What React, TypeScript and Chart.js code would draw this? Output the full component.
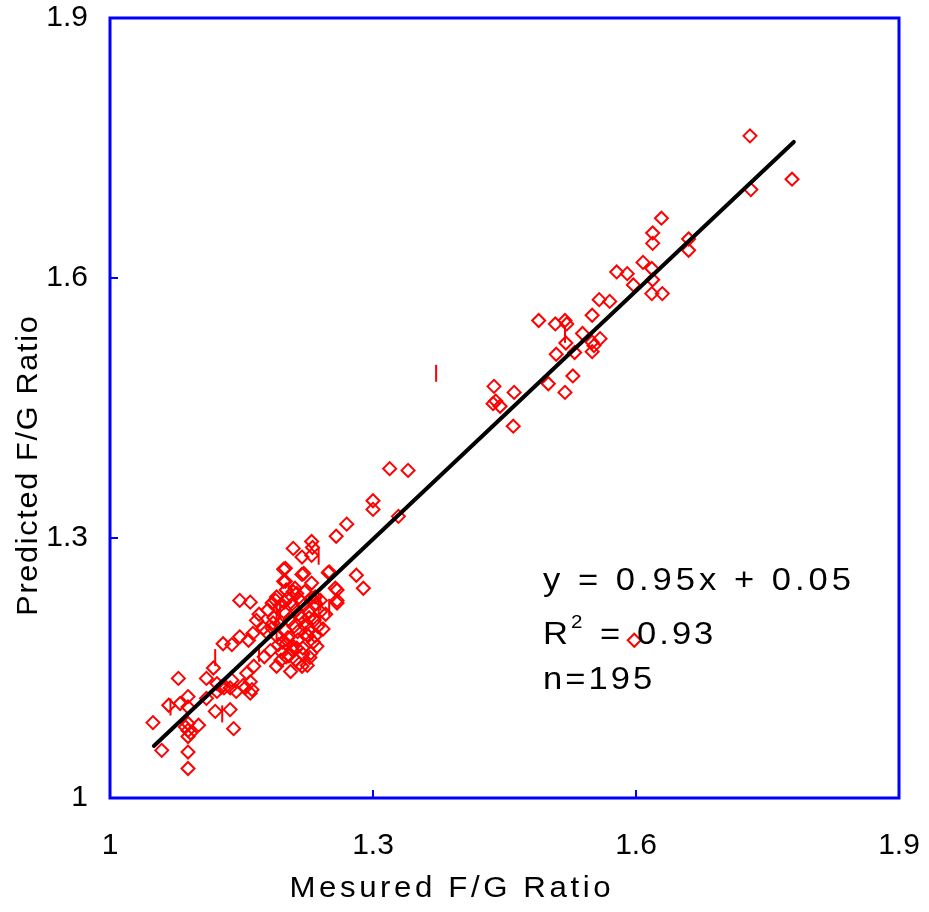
import { useEffect, useRef } from 'react';
import { Chart, registerables } from 'chart.js';

Chart.register(...registerables);

// ---------------- data ----------------
const X_TICKS = [1, 1.3, 1.6, 1.9];
const X_TICK_LABELS = ['1', '1.3', '1.6', '1.9'];
const Y_TICKS = [1, 1.3, 1.6, 1.9];
const Y_TICK_LABELS = ['1', '1.3', '1.6', '1.9'];

const X_TITLE = 'Mesured F/G Ratio';
const Y_TITLE = 'Predicted F/G Ratio';
const EQUATION = 'y = 0.95x + 0.05';
const R2_MAIN = 'R';
const R2_SUP = '2';
const R2_EQ = '=';
const R2_VALUE = '0.93';
const N_LABEL = 'n=195';

// measured (x), predicted (y) – diamonds
const DIAMOND_POINTS: [number, number][] = [
  // upper group
  [1.730, 1.764], [1.778, 1.714], [1.731, 1.702], [1.629, 1.669], [1.619, 1.652],
  [1.619, 1.640], [1.660, 1.645], [1.660, 1.632], [1.608, 1.618], [1.618, 1.611],
  [1.578, 1.607], [1.590, 1.605], [1.597, 1.592], [1.619, 1.598], [1.618, 1.582],
  [1.630, 1.582], [1.570, 1.573], [1.558, 1.575], [1.550, 1.557], [1.489, 1.551],
  [1.508, 1.547], [1.519, 1.551], [1.521, 1.547], [1.539, 1.536], [1.520, 1.525],
  [1.550, 1.526], [1.559, 1.530], [1.550, 1.515], [1.509, 1.512], [1.530, 1.514],
  [1.528, 1.487], [1.500, 1.478], [1.519, 1.468], [1.438, 1.475], [1.461, 1.468],
  [1.437, 1.455], [1.445, 1.452], [1.440, 1.458], [1.460, 1.429], [1.552, 1.522],
  [1.598, 1.182],
  // middle group
  [1.319, 1.380], [1.340, 1.378], [1.300, 1.343], [1.300, 1.333], [1.329, 1.325],
  [1.270, 1.316], [1.258, 1.302], [1.230, 1.296], [1.231, 1.289], [1.209, 1.288],
  [1.219, 1.278], [1.230, 1.280], [1.198, 1.264], [1.219, 1.258], [1.249, 1.260],
  [1.281, 1.257], [1.198, 1.250], [1.230, 1.248], [1.289, 1.242], [1.257, 1.242],
  [1.148, 1.228], [1.160, 1.226], [1.190, 1.232], [1.209, 1.238], [1.259, 1.228],
  [1.167, 1.205], [1.200, 1.265], [1.200, 1.250], [1.221, 1.259], [1.250, 1.261],
  [1.259, 1.240], [1.259, 1.225], [1.175, 1.196], [1.163, 1.190], [1.158, 1.182],
  [1.148, 1.186], [1.139, 1.177], [1.129, 1.178],
  // dense cluster
  [1.189, 1.228], [1.194, 1.222], [1.198, 1.215], [1.203, 1.231], [1.208, 1.224],
  [1.212, 1.217], [1.217, 1.228], [1.221, 1.222], [1.226, 1.215], [1.230, 1.231],
  [1.235, 1.224], [1.187, 1.208], [1.193, 1.201], [1.200, 1.194], [1.205, 1.205],
  [1.210, 1.198], [1.214, 1.192], [1.219, 1.208], [1.224, 1.201], [1.228, 1.194],
  [1.233, 1.205], [1.237, 1.198], [1.190, 1.187], [1.197, 1.180], [1.203, 1.185],
  [1.209, 1.175], [1.214, 1.182], [1.220, 1.173], [1.226, 1.187], [1.232, 1.180],
  [1.196, 1.168], [1.204, 1.164], [1.212, 1.159], [1.220, 1.166], [1.228, 1.162],
  [1.236, 1.175], [1.185, 1.196], [1.240, 1.215], [1.201, 1.240], [1.222, 1.238],
  [1.192, 1.177], [1.216, 1.155], [1.208, 1.171], [1.234, 1.187], [1.180, 1.217],
  [1.178, 1.192], [1.195, 1.159], [1.225, 1.153], [1.211, 1.242], [1.240, 1.228],
  [1.186, 1.202], [1.213, 1.173], [1.234, 1.232], [1.152, 1.130], [1.162, 1.125],
  [1.127, 1.128], [1.246, 1.212], [1.243, 1.195], [1.206, 1.146], [1.183, 1.170],
  [1.176, 1.163], [1.170, 1.212], [1.215, 1.212], [1.227, 1.208], [1.199, 1.226],
  [1.223, 1.190], [1.201, 1.178], [1.213, 1.236], [1.185, 1.225], [1.229, 1.167],
  // lower group
  [1.118, 1.150], [1.110, 1.138], [1.078, 1.138], [1.122, 1.132], [1.139, 1.136],
  [1.154, 1.127], [1.160, 1.134], [1.144, 1.123], [1.160, 1.121], [1.137, 1.127],
  [1.130, 1.127], [1.122, 1.123], [1.067, 1.107], [1.080, 1.109], [1.089, 1.117],
  [1.089, 1.105], [1.049, 1.087], [1.089, 1.086], [1.089, 1.078], [1.089, 1.071],
  [1.086, 1.082], [1.092, 1.075], [1.101, 1.084], [1.059, 1.055], [1.089, 1.053],
  [1.089, 1.034], [1.120, 1.100], [1.137, 1.102], [1.141, 1.080], [1.110, 1.115],
  [1.156, 1.144], [1.190, 1.152], [1.219, 1.152], [1.201, 1.163], [1.164, 1.152],
];

// points drawn as short vertical dashes
const DASH_POINTS: [number, number][] = [
  [1.372, 1.490], [1.519, 1.535], [1.238, 1.279], [1.250, 1.220], [1.238, 1.222],
  [1.194, 1.219], [1.190, 1.213], [1.190, 1.193], [1.170, 1.167], [1.240, 1.226],
  [1.120, 1.162], [1.069, 1.105], [1.128, 1.097],
];

// regression line end points
const TREND_LINE: [number, number][] = [
  [1.05, 1.06], [1.78, 1.757],
];

// ---------------- styling / layout ----------------
const FONT = "'Liberation Sans', Arial, Helvetica, sans-serif";
const FRAME_BLUE = '#0000FF';
const MARK_RED = '#FF0000';

// draws text with a horizontal stretch and extra spacing; returns the end x
function drawText(
  ctx: CanvasRenderingContext2D,
  text: string,
  x: number,
  y: number,
  opts: { stretch: number; spacing: number; align: 'left' | 'center' }
) {
  const { stretch, spacing, align } = opts;
  const chars = Array.from(text);
  const widths = chars.map((c) => ctx.measureText(c).width * stretch);
  const total = widths.reduce((s, w) => s + w, 0) + spacing * (chars.length - 1);
  let cx = align === 'center' ? x - total / 2 : x;
  ctx.textAlign = 'left';
  chars.forEach((c, i) => {
    ctx.save();
    ctx.translate(cx, y);
    ctx.scale(stretch, 1);
    ctx.fillText(c, 0, 0);
    ctx.restore();
    cx += widths[i] + spacing;
  });
  return cx;
}

const overlayPlugin = {
  id: 'overlay',
  afterDraw(chart: any) {
    const { ctx, chartArea: a, scales } = chart;
    const xs = scales.x;
    const ys = scales.y;
    ctx.save();

    // blue frame
    ctx.strokeStyle = FRAME_BLUE;
    ctx.lineWidth = 3;
    ctx.strokeRect(a.left, a.top, a.right - a.left, a.bottom - a.top);

    // inward tick marks
    ctx.lineWidth = 2;
    ctx.beginPath();
    X_TICKS.slice(1, -1).forEach((v) => {
      const px = Math.round(xs.getPixelForValue(v));
      ctx.moveTo(px, a.bottom);
      ctx.lineTo(px, a.bottom - 8);
    });
    Y_TICKS.slice(1, -1).forEach((v) => {
      const py = Math.round(ys.getPixelForValue(v));
      ctx.moveTo(a.left, py);
      ctx.lineTo(a.left + 8, py);
    });
    ctx.stroke();

    // axis titles
    ctx.fillStyle = '#000000';
    ctx.textBaseline = 'alphabetic';
    ctx.font = `30px ${FONT}`;
    drawText(ctx, X_TITLE, a.left + 340, a.bottom + 99, { stretch: 1.04, spacing: 3.6, align: 'center' });

    ctx.save();
    ctx.translate(37, (a.top + a.bottom) / 2 + 58);
    ctx.rotate(-Math.PI / 2);
    drawText(ctx, Y_TITLE, 0, 0, { stretch: 1.02, spacing: 1.7, align: 'center' });
    ctx.restore();

    // regression annotation
    const ax = xs.getPixelForValue(1.494);
    ctx.font = `32px ${FONT}`;
    drawText(ctx, EQUATION, ax, ys.getPixelForValue(1.240), { stretch: 1.08, spacing: 4, align: 'left' });
    const rBase = ys.getPixelForValue(1.178);
    const afterR = drawText(ctx, R2_MAIN, ax, rBase, { stretch: 1.08, spacing: 0, align: 'left' });
    ctx.font = `19px ${FONT}`;
    drawText(ctx, R2_SUP, afterR + 3, rBase - 16, { stretch: 1.08, spacing: 0, align: 'left' });
    ctx.font = `32px ${FONT}`;
    drawText(ctx, R2_EQ, ax + 57, rBase, { stretch: 1.08, spacing: 0, align: 'left' });
    drawText(ctx, R2_VALUE, ax + 94, rBase, { stretch: 1.08, spacing: 3, align: 'left' });
    drawText(ctx, N_LABEL, ax, ys.getPixelForValue(1.126), { stretch: 1.08, spacing: 3, align: 'left' });

    ctx.restore();
  },
};

export default function App() {
  const ref = useRef<HTMLCanvasElement | null>(null);

  useEffect(() => {
    if (!ref.current) return;
    const chart = new Chart(ref.current, {
      type: 'scatter',
      data: {
        datasets: [
          {
            type: 'line',
            label: 'fit',
            data: TREND_LINE.map(([x, y]) => ({ x, y })),
            borderColor: '#000000',
            borderWidth: 4,
            pointRadius: 0,
            fill: false,
            tension: 0,
            borderCapStyle: 'round',
          },
          {
            label: 'dash',
            data: DASH_POINTS.map(([x, y]) => ({ x, y })),
            pointStyle: 'line',
            pointRotation: 90,
            pointRadius: 8.5,
            pointHoverRadius: 8.5,
            borderColor: MARK_RED,
            backgroundColor: MARK_RED,
            borderWidth: 2,
          },
          {
            label: 'data',
            data: DIAMOND_POINTS.map(([x, y]) => ({ x, y })),
            pointStyle: 'rectRot',
            pointRadius: 6.5,
            pointHoverRadius: 6.5,
            borderColor: MARK_RED,
            backgroundColor: 'rgba(0,0,0,0)',
            borderWidth: 2,
          },
        ],
      } as any,
      options: {
        animation: false,
        responsive: false,
        events: [],
        layout: { padding: { top: 18, right: 30, left: 0, bottom: 0 } },
        plugins: {
          legend: { display: false },
          tooltip: { enabled: false },
        },
        scales: {
          x: {
            type: 'linear',
            min: 1,
            max: 1.9,
            grid: { display: false, drawTicks: false },
            border: { display: false },
            afterBuildTicks: (s: any) => {
              s.ticks = X_TICKS.map((v) => ({ value: v }));
            },
            afterFit: (s: any) => {
              s.height = 114;
              s.paddingLeft = 0;
              s.paddingRight = 0;
              s.paddingTop = 0;
              s.paddingBottom = 0;
            },
            ticks: {
              padding: 30,
              color: '#000000',
              font: { family: FONT, size: 30, lineHeight: 1.2 },
              maxRotation: 0,
              autoSkip: false,
              callback: (_v: any, i: number) => X_TICK_LABELS[i],
            },
          },
          y: {
            type: 'linear',
            min: 1,
            max: 1.9,
            grid: { display: false, drawTicks: false },
            border: { display: false },
            afterBuildTicks: (s: any) => {
              s.ticks = Y_TICKS.map((v) => ({ value: v }));
            },
            afterFit: (s: any) => {
              s.width = 110;
              s.paddingLeft = 0;
              s.paddingRight = 0;
              s.paddingTop = 0;
              s.paddingBottom = 0;
            },
            ticks: {
              padding: 22,
              color: '#000000',
              font: { family: FONT, size: 30, lineHeight: 1 },
              autoSkip: false,
              callback: (_v: any, i: number) => Y_TICK_LABELS[i],
            },
          },
        },
      } as any,
      plugins: [overlayPlugin],
    });
    return () => chart.destroy();
  }, []);

  return (
    <div style={{ position: 'absolute', left: 0, top: 0, width: 929, height: 912, background: '#fff' }}>
      <canvas ref={ref} width={929} height={912} />
    </div>
  );
}
